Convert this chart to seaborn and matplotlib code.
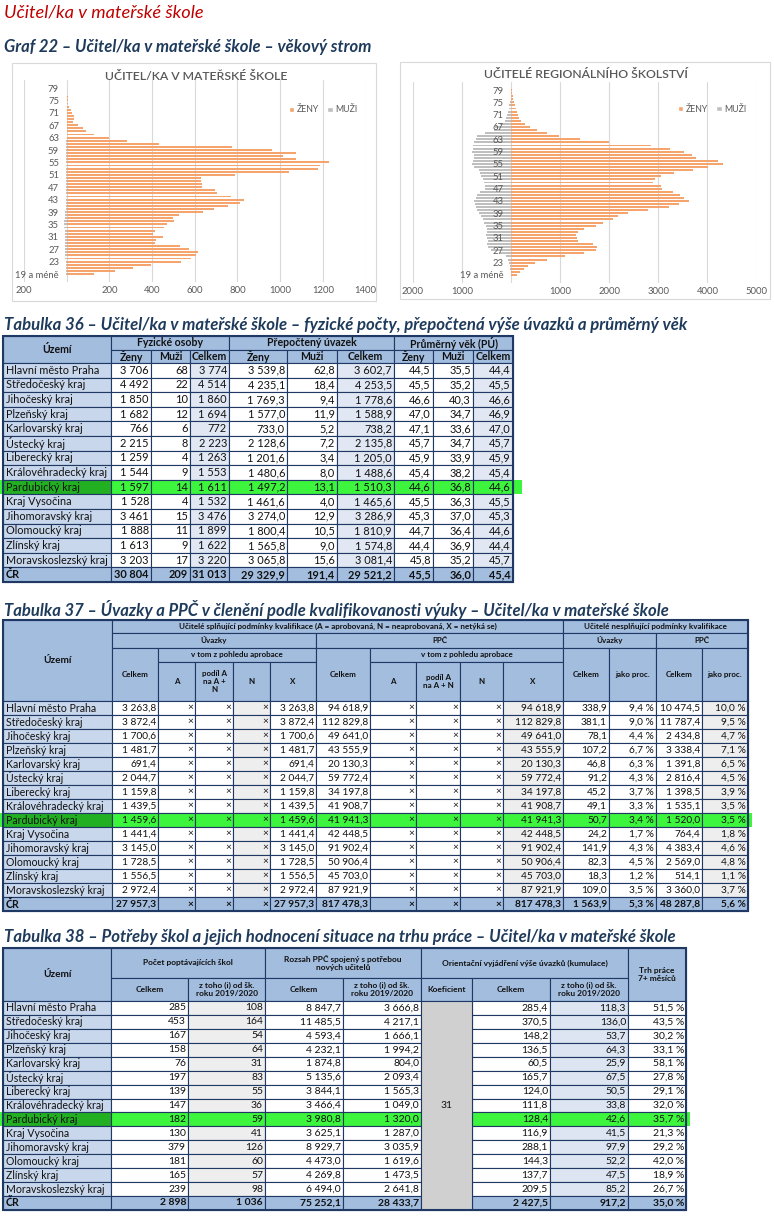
import matplotlib
matplotlib.use("Agg")
import numpy as np
import pandas as pd
import matplotlib.pyplot as plt
import seaborn as sns
from matplotlib.patches import Rectangle, Patch
from matplotlib.ticker import FuncFormatter

sns.set_theme(style="white")
plt.rcParams["font.family"] = ["Lato", "DejaVu Sans"]

# --------------------------
# Data: age pyramids (ages from "19 a méně" up to 79)
# --------------------------
ages = ["19 a méně"] + [str(a) for a in range(20, 80)]

zeny_ms = [130, 228, 309, 395, 536, 583, 606, 617, 575, 531,
           414, 420, 451, 406, 415, 455, 470, 501, 498, 528,
           637, 692, 755, 812, 833, 770, 702, 697, 634, 634,
           630, 630, 790, 1040, 1177, 1187, 1227, 1075, 1012, 1073,
           961, 773, 433, 284, 200, 130, 89, 78, 55, 31,
           34, 34, 27, 20, 12, 8, 5, 4, 3, 2, 2]
muzi_ms = [1, 2, 3, 4, 5, 6, 7, 7, 8, 8,
           7, 6, 8, 9, 10, 11, 12, 11, 10, 9,
           6, 5, 5, 4, 4, 4, 3, 3, 3, 3,
           2, 2, 2, 2, 2, 2, 2, 1, 1, 1,
           1, 1, 1, 1, 0, 0, 0, 0, 0, 0,
           0, 0, 0, 0, 0, 0, 0, 0, 0, 0, 0]

zeny_rs = [129, 183, 265, 353, 489, 726, 1100, 1494, 1724, 1758,
           1663, 1371, 1337, 1324, 1371, 1487, 1731, 1880, 2084, 2186,
           2390, 2783, 3211, 3422, 3632, 3523, 3442, 3293, 3069, 3048,
           2899, 2933, 3048, 3320, 3713, 4019, 4311, 4223, 3761, 3680,
           3523, 3238, 2845, 2003, 1405, 985, 740, 523, 387, 285,
           210, 170, 150, 115, 102, 81, 61, 48, 34, 27, 14]
muzi_rs = [7, 7, 14, 20, 34, 54, 102, 224, 414, 462,
           482, 462, 482, 509, 482, 496, 509, 550, 577, 618,
           645, 699, 713, 733, 754, 713, 686, 631, 530, 530,
           550, 577, 618, 631, 645, 754, 788, 781, 754, 754,
           788, 781, 767, 754, 713, 686, 530, 346, 326, 224,
           122, 102, 75, 54, 41, 34, 20, 5, 7, 0, 0]

# --------------------------
# Data: tables
# --------------------------
regions = ["Hlavní město Praha", "Středočeský kraj", "Jihočeský kraj", "Plzeňský kraj",
           "Karlovarský kraj", "Ústecký kraj", "Liberecký kraj", "Královéhradecký kraj",
           "Pardubický kraj", "Kraj Vysočina", "Jihomoravský kraj", "Olomoucký kraj",
           "Zlínský kraj", "Moravskoslezský kraj", "ČR"]

# Tabulka 36
fo_zeny = [3706, 4492, 1850, 1682, 766, 2215, 1259, 1544, 1597, 1528, 3461, 1888, 1613, 3203, 30804]
fo_muzi = [68, 22, 10, 12, 6, 8, 4, 9, 14, 4, 15, 11, 9, 17, 209]
fo_celkem = [3774, 4514, 1860, 1694, 772, 2223, 1263, 1553, 1611, 1532, 3476, 1899, 1622, 3220, 31013]
pu_zeny = [3539.8, 4235.1, 1769.3, 1577.0, 733.0, 2128.6, 1201.6, 1480.6, 1497.2, 1461.6,
           3274.0, 1800.4, 1565.8, 3065.8, 29329.9]
pu_muzi = [62.8, 18.4, 9.4, 11.9, 5.2, 7.2, 3.4, 8.0, 13.1, 4.0, 12.9, 10.5, 9.0, 15.6, 191.4]
pu_celkem = [3602.7, 4253.5, 1778.6, 1588.9, 738.2, 2135.8, 1205.0, 1488.6, 1510.3, 1465.6,
             3286.9, 1810.9, 1574.8, 3081.4, 29521.2]
vek_zeny = [44.5, 45.5, 46.6, 47.0, 47.1, 45.7, 45.9, 45.4, 44.6, 45.5, 45.3, 44.7, 44.4, 45.8, 45.5]
vek_muzi = [35.5, 35.2, 40.3, 34.7, 33.6, 34.7, 33.9, 38.2, 36.8, 36.3, 37.0, 36.4, 36.9, 35.2, 36.0]
vek_celkem = [44.4, 45.5, 46.6, 46.9, 47.0, 45.7, 45.9, 45.4, 44.6, 45.5, 45.3, 44.6, 44.4, 45.7, 45.4]

# Tabulka 37
uv_celkem = [3263.8, 3872.4, 1700.6, 1481.7, 691.4, 2044.7, 1159.8, 1439.5, 1459.6, 1441.4,
             3145.0, 1728.5, 1556.5, 2972.4, 27957.3]
uv_x = [3263.8, 3872.4, 1700.6, 1481.7, 691.4, 2044.7, 1159.8, 1439.5, 1459.6, 1441.4,
        3145.0, 1728.5, 1556.5, 2972.4, 27957.3]
ppc_celkem = [94618.9, 112829.8, 49641.0, 43555.9, 20130.3, 59772.4, 34197.8, 41908.7, 41941.3,
              42448.5, 91902.4, 50906.4, 45703.0, 87921.9, 817478.3]
ppc_x = [94618.9, 112829.8, 49641.0, 43555.9, 20130.3, 59772.4, 34197.8, 41908.7, 41941.3,
         42448.5, 91902.4, 50906.4, 45703.0, 87921.9, 817478.3]
nes_uv = [338.9, 381.1, 78.1, 107.2, 46.8, 91.2, 45.2, 49.1, 50.7, 24.2, 141.9, 82.3, 18.3, 109.0, 1563.9]
nes_uv_pct = [9.4, 9.0, 4.4, 6.7, 6.3, 4.3, 3.7, 3.3, 3.4, 1.7, 4.3, 4.5, 1.2, 3.5, 5.3]
nes_ppc = [10474.5, 11787.4, 2434.8, 3338.4, 1391.8, 2816.4, 1398.5, 1535.1, 1520.0, 764.4,
           4383.4, 2569.0, 514.1, 3360.0, 48287.8]
nes_ppc_pct = [10.0, 9.5, 4.7, 7.1, 6.5, 4.5, 3.9, 3.5, 3.5, 1.8, 4.6, 4.8, 1.1, 3.7, 5.6]
netyka = ["×"] * 15

# Tabulka 38
poc_celkem = [285, 453, 167, 158, 76, 197, 139, 147, 182, 130, 379, 181, 165, 239, 2898]
poc_2019 = [108, 164, 54, 64, 31, 83, 55, 36, 59, 41, 126, 60, 57, 98, 1036]
roz_celkem = [8847.7, 11485.5, 4593.4, 4232.1, 1874.8, 5135.6, 3844.1, 3466.4, 3980.8, 3625.1,
              8929.7, 4473.0, 4269.8, 6494.0, 75252.1]
roz_2019 = [3666.8, 4217.1, 1666.1, 1994.2, 804.0, 2093.4, 1565.3, 1049.0, 1320.0, 1287.0,
            3035.9, 1619.6, 1473.5, 2641.8, 28433.7]
koeficient = 31
ori_celkem = [285.4, 370.5, 148.2, 136.5, 60.5, 165.7, 124.0, 111.8, 128.4, 116.9,
              288.1, 144.3, 137.7, 209.5, 2427.5]
ori_2019 = [118.3, 136.0, 53.7, 64.3, 25.9, 67.5, 50.5, 33.8, 42.6, 41.5, 97.9, 52.2, 47.5, 85.2, 917.2]
trh_prace = [51.5, 43.5, 30.2, 33.1, 58.1, 27.8, 29.1, 32.0, 35.7, 21.3, 29.2, 42.0, 18.9, 26.7, 35.0]

# --------------------------
# Styles
# --------------------------
W, H = 774, 1216
ORANGE = "#F4A46C"
GRAYBAR = "#BFBFBF"
AXTXT = "#595959"
BORDER = "#1F3864"
HEAD = "#A3BDDF"
TERR = "#C8D7EC"
CEL = "#E1E8F3"
LGRAY = "#EEEEEE"
LBLUE = "#DCE5F1"
KOEF = "#D0D0D0"
GREEN = "#3DF53D"
DKGREEN = "#22B022"
TITLE = "#1F3B5C"


def fi(v):
    return f"{v:,}".replace(",", " ")


def fd(v):
    return f"{v:,.1f}".replace(",", " ").replace(".", ",")


def fp(v):
    return fd(v) + " %"


def fs(v):
    return str(v)


fig = plt.figure(figsize=(W / 100, H / 100), dpi=100)
pg = fig.add_axes([0, 0, 1, 1])
pg.set_xlim(0, W)
pg.set_ylim(H, 0)
pg.axis("off")
renderer = fig.canvas.get_renderer()


def fit(x, y, s, width, **kw):
    t = pg.text(x, y, s, **kw)
    w = t.get_window_extent(renderer).width
    t.set_fontsize(t.get_fontsize() * width / w)
    return t


# --------------------------
# Headings
# --------------------------
fit(4, 13, "Učitel/ka v mateřské škole", 199, ha="left", va="center",
    style="italic", color="#C00000", fontsize=12)
fit(4, 47, "Graf 22 – Učitel/ka v mateřské škole – věkový strom", 367, ha="left", va="center",
    style="italic", fontweight="bold", color=TITLE, fontsize=10)
fit(4, 325, "Tabulka 36 – Učitel/ka v mateřské škole – fyzické počty, přepočtená výše úvazků a průměrný věk",
    682, ha="left", va="center", style="italic", fontweight="bold", color=TITLE, fontsize=10)
fit(4, 609.5, "Tabulka 37 – Úvazky a PPČ v členění podle kvalifikovanosti výuky – Učitel/ka v mateřské škole",
    664, ha="left", va="center", style="italic", fontweight="bold", color=TITLE, fontsize=10)
fit(4, 937, "Tabulka 38 – Potřeby škol a jejich hodnocení situace na trhu práce – Učitel/ka v mateřské škole",
    670, ha="left", va="center", style="italic", fontweight="bold", color=TITLE, fontsize=10)


# --------------------------
# Age pyramids
# --------------------------
def pyramid(box, frame, title, title_xy, title_w, zeny, muzi, xlim, step, y0, sp, leg_xy):
    l, r, t, b = box
    pg.add_patch(Rectangle((frame[0], frame[1]), frame[2] - frame[0], frame[3] - frame[1],
                           fill=False, ec="#D9D9D9", lw=0.8))
    fit(title_xy[0], title_xy[1], title, title_w, ha="center", va="center", color=AXTXT,
        fontsize=10, fontweight="semibold")

    ax = fig.add_axes([l / W, 1 - b / H, (r - l) / W, (b - t) / H])
    df = pd.DataFrame({"vek": ages, "zeny": zeny, "muzi": [-m for m in muzi]})
    order = ages[::-1]
    sns.barplot(data=df, y="vek", x="zeny", order=order, color=ORANGE, saturation=1,
                width=0.64, errorbar=None, orient="h", linewidth=0, edgecolor="none", ax=ax)
    sns.barplot(data=df, y="vek", x="muzi", order=order, color=GRAYBAR, saturation=1,
                width=0.64, errorbar=None, orient="h", linewidth=0, edgecolor="none", ax=ax)
    ax.set_xlim(*xlim)
    ax.set_ylim((b - y0) / sp, (t - y0) / sp)
    xt = np.arange(xlim[0], xlim[1] + 1, step)
    ax.set_xticks(xt)
    ax.xaxis.set_major_formatter(FuncFormatter(lambda v, p: "" if v == 0 else f"{abs(v):.0f}"))
    pos = list(range(0, len(order), 4))
    ax.set_yticks(pos, labels=[order[i] for i in pos])
    ax.set_xlabel("")
    ax.set_ylabel("")
    ax.grid(False)
    # vertical gridlines behind the bars, tick labels above them
    for v in xt:
        ax.axvline(v, color="#D9D9D9", lw=0.8, zorder=0)
    ax.set_axisbelow(False)
    for s in ax.spines.values():
        s.set_visible(False)
    ax.spines["left"].set_position(("data", 0))
    ax.tick_params(axis="both", length=0, labelsize=6.8, labelcolor=AXTXT)
    ax.tick_params(axis="x", pad=3)
    ax.tick_params(axis="y", pad=5.5)
    ax.patch.set_alpha(0)
    ax.legend([Patch(fc=ORANGE), Patch(fc=GRAYBAR)], ["ŽENY", "MUŽI"], ncol=2, frameon=False,
              loc="center", bbox_to_anchor=(leg_xy[0] / W, 1 - leg_xy[1] / H),
              bbox_transform=fig.transFigure, fontsize=6.3, labelcolor=AXTXT,
              handlelength=0.6, handleheight=0.6, handletextpad=0.3, columnspacing=1.0)
    return ax


pyramid((24, 365.5, 80, 282), (12, 63, 376, 301), "UČITEL/KA V MATEŘSKÉ ŠKOLE", (196, 77), 182,
        zeny_ms, muzi_ms, (-200, 1400), 200, 88, 3.1, (323, 110))
pyramid((412.8, 756.5, 82, 283), (400, 62, 770, 299), "UČITELÉ REGIONÁLNÍHO ŠKOLSTVÍ", (585.5, 75), 205,
        zeny_rs, muzi_rs, (-2000, 5000), 1000, 90, 3.083, (712, 109))


# --------------------------
# Tables
# --------------------------
def cell(x0, x1, y0, y1, fill, text="", ha="center", size=7, bold=False, lw=0.8):
    pg.add_patch(Rectangle((x0, y0), x1 - x0, y1 - y0, fc=fill, ec=BORDER, lw=lw))
    if text != "":
        tx = {"left": x0 + 2.5, "right": x1 - 2, "center": (x0 + x1) / 2}[ha]
        pg.text(tx, (y0 + y1) / 2, text, ha=ha, va="center", fontsize=size, color="#111111",
                fontweight="bold" if bold else "normal", linespacing=1.15)


def body(xs, y_top, row_h, columns, size, green_to, name_size=7.6):
    for i, name in enumerate(regions):
        y0 = y_top + i * row_h
        y1 = y0 + row_h
        last = i == len(regions) - 1
        pard = name == "Pardubický kraj"
        if pard:
            pg.add_patch(Rectangle((0, y0), green_to, row_h, fc=GREEN, ec="none"))
        cell(xs[0], xs[1], y0, y1, DKGREEN if pard else (HEAD if last else TERR), name, "left",
             name_size, last)
        for j, (vals, f, fill) in enumerate(columns):
            if vals is None:
                continue
            c = GREEN if pard else (HEAD if last else fill)
            cell(xs[j + 1], xs[j + 2], y0, y1, c, f(vals[i]), "right", size, last)
    return y_top + len(regions) * row_h


def outline(xs, top, bottom):
    pg.add_patch(Rectangle((xs[0], top), xs[-1] - xs[0], bottom - top, fill=False, ec=BORDER, lw=1.5))


# Tabulka 36
xs = [3, 111, 151, 190, 229, 287, 337, 394, 433, 473, 513]
ys = [336, 350, 363]
hs = 7.6
cell(xs[0], xs[1], ys[0], ys[2], HEAD, "Území", size=hs, bold=True)
for k, lab in enumerate(["Fyzické osoby", "Přepočtený úvazek", "Průměrný věk (PÚ)"]):
    cell(xs[1 + 3 * k], xs[4 + 3 * k], ys[0], ys[1], HEAD, lab, size=hs, bold=True)
    for m, sub in enumerate(["Ženy", "Muži", "Celkem"]):
        cell(xs[1 + 3 * k + m], xs[2 + 3 * k + m], ys[1], ys[2], HEAD, sub, size=hs, bold=True)
bottom = body(xs, ys[2], 14.6, [
    (fo_zeny, fi, "white"), (fo_muzi, fi, "white"), (fo_celkem, fi, CEL),
    (pu_zeny, fd, "white"), (pu_muzi, fd, "white"), (pu_celkem, fd, CEL),
    (vek_zeny, fd, "white"), (vek_muzi, fd, "white"), (vek_celkem, fd, CEL)], 7.9, 522, 7.8)
outline(xs, ys[0], bottom)

# Tabulka 37
xs = [3, 112, 158, 195, 233, 270, 316, 370, 416, 460, 503, 563, 609, 656, 702, 748]
ys = [620, 633, 648, 662, 701]
hs = 5.8
cell(xs[0], xs[1], ys[0], ys[4], HEAD, "Území", size=7.2, bold=True)
cell(xs[1], xs[11], ys[0], ys[1], HEAD,
     "Učitelé splňující podmínky kvalifikace (A = aprobovaná, N = neaprobovaná, X = netýká se)", size=hs, bold=True)
cell(xs[11], xs[15], ys[0], ys[1], HEAD, "Učitelé nesplňující podmínky kvalifikace", size=hs, bold=True)
for a, b_, lab in [(1, 6, "Úvazky"), (6, 11, "PPČ"), (11, 13, "Úvazky"), (13, 15, "PPČ")]:
    cell(xs[a], xs[b_], ys[1], ys[2], HEAD, lab, size=hs, bold=True)
for start, podil in [(1, "podíl A\nna A +\nN"), (6, "podíl A\nna A + N")]:
    cell(xs[start], xs[start + 1], ys[2], ys[4], HEAD, "Celkem", size=hs, bold=True)
    cell(xs[start + 1], xs[start + 5], ys[2], ys[3], HEAD, "v tom z pohledu aprobace", size=hs, bold=True)
    for m, sub in enumerate(["A", podil, "N", "X"]):
        cell(xs[start + 1 + m], xs[start + 2 + m], ys[3], ys[4], HEAD, sub, size=hs, bold=True)
for m, sub in enumerate(["Celkem", "jako proc.", "Celkem", "jako proc."]):
    cell(xs[11 + m], xs[12 + m], ys[2], ys[4], HEAD, sub, size=hs, bold=True)
bottom = body(xs, ys[4], 14.0, [
    (uv_celkem, fd, "white"), (netyka, fs, "white"), (netyka, fs, "white"), (netyka, fs, LGRAY),
    (uv_x, fd, "white"),
    (ppc_celkem, fd, "white"), (netyka, fs, "white"), (netyka, fs, "white"), (netyka, fs, "white"),
    (ppc_x, fd, LGRAY),
    (nes_uv, fd, "white"), (nes_uv_pct, fp, "white"), (nes_ppc, fd, "white"), (nes_ppc_pct, fp, LGRAY)],
    7.3, 752)
outline(xs, ys[0], bottom)

# Tabulka 38
xs = [3, 111, 188, 265, 343, 421, 472, 550, 628, 686]
ys = [948, 978, 1001]
hs = 6.0
ztoho = "z toho (i) od šk.\nroku 2019/2020"
cell(xs[0], xs[1], ys[0], ys[2], HEAD, "Území", size=7.2, bold=True)
cell(xs[1], xs[3], ys[0], ys[1], HEAD, "Počet poptávajících škol", size=hs, bold=True)
cell(xs[3], xs[5], ys[0], ys[1], HEAD, "Rozsah PPČ spojený s potřebou\nnových učitelů", size=hs, bold=True)
cell(xs[5], xs[8], ys[0], ys[1], HEAD, "Orientační vyjádření výše úvazků (kumulace)", size=hs, bold=True)
cell(xs[8], xs[9], ys[0], ys[2], HEAD, "Trh práce\n7+ měsíců", size=hs, bold=True)
for m, sub in enumerate(["Celkem", ztoho, "Celkem", ztoho, "Koeficient", "Celkem", ztoho]):
    cell(xs[1 + m], xs[2 + m], ys[1], ys[2], HEAD, sub, size=hs, bold=True)
bottom = body(xs, ys[2], 13.93, [
    (poc_celkem, fi, "white"), (poc_2019, fi, LGRAY), (roz_celkem, fd, "white"), (roz_2019, fd, "white"),
    (None, None, None), (ori_celkem, fd, "white"), (ori_2019, fd, LBLUE), (trh_prace, fp, "white")],
    7.5, 690)
cell(xs[5], xs[6], ys[2], bottom, KOEF, str(koeficient), size=7.4)
outline(xs, ys[0], bottom)

fig.savefig("out.png", dpi=100, facecolor="white")
